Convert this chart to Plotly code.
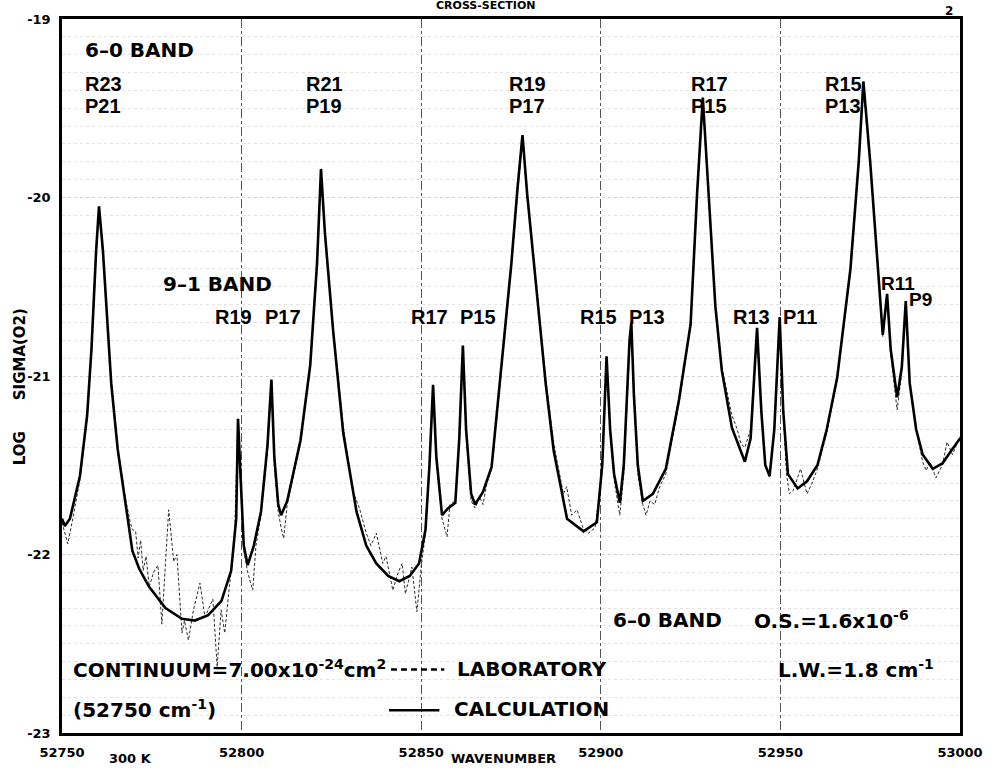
import plotly.graph_objects as go

# ---------------- data ----------------
calc_wn = [52750.0, 52750.8, 52752.2, 52755.0, 52757.0, 52758.2, 52759.5, 52760.3, 52761.4, 52763.7,
           52765.5, 52767.8, 52769.6, 52771.5, 52774.2, 52778.8, 52783.4, 52787.0, 52790.7, 52794.4,
           52797.1, 52798.5, 52799.0, 52799.8, 52800.6, 52801.7, 52803.4, 52805.4, 52807.2, 52808.3,
           52809.1, 52810.2, 52811.0, 52812.7, 52814.4, 52816.4, 52819.1, 52821.0, 52822.1, 52823.2,
           52825.5, 52828.3, 52832.0, 52834.7, 52837.5, 52840.8, 52843.9, 52846.8, 52849.4, 52851.2,
           52852.3, 52853.3, 52854.2, 52855.8, 52857.5, 52859.5, 52860.6, 52861.6, 52862.5, 52863.9,
           52865.0, 52867.2, 52869.6, 52871.4, 52873.2, 52875.1, 52876.8, 52878.2, 52879.5, 52882.4,
           52884.7, 52886.9, 52890.6, 52895.2, 52898.9, 52900.4, 52901.6, 52902.6, 52903.7, 52905.3,
           52906.4, 52908.0, 52908.5, 52909.2, 52910.3, 52911.7, 52914.5, 52918.1, 52921.8, 52925.0,
           52926.8, 52928.4, 52930.0, 52931.9, 52933.7, 52936.5, 52940.1, 52941.7, 52943.5, 52944.7,
           52945.8, 52947.0, 52948.3, 52949.8, 52950.8, 52952.1, 52954.8, 52957.4, 52960.3, 52962.9,
           52965.8, 52969.5, 52971.8, 52973.1, 52975.0, 52976.8, 52978.5, 52979.7, 52980.7, 52982.5,
           52983.8, 52984.9, 52986.0, 52987.8, 52989.6, 52992.4, 52995.1, 52997.5, 53000.0]
calc_log = [-21.80, -21.84, -21.80, -21.56, -21.22, -20.85, -20.30, -20.05, -20.30, -21.04,
            -21.41, -21.72, -21.98, -22.08, -22.18, -22.30, -22.36, -22.37, -22.34, -22.26,
            -22.09, -21.80, -21.24, -21.60, -21.95, -22.06, -21.95, -21.76, -21.39, -21.02,
            -21.45, -21.72, -21.78, -21.70, -21.55, -21.36, -20.94, -20.37, -19.84, -20.20,
            -20.75, -21.32, -21.76, -21.95, -22.05, -22.12, -22.15, -22.12, -22.05, -21.86,
            -21.50, -21.05, -21.45, -21.78, -21.74, -21.71, -21.35, -20.83, -21.30, -21.66,
            -21.72, -21.65, -21.51, -21.13, -20.75, -20.37, -19.95, -19.65, -19.98, -20.56,
            -21.05, -21.42, -21.80, -21.87, -21.82, -21.50, -20.89, -21.30, -21.55, -21.71,
            -21.50, -20.80, -20.70, -21.10, -21.50, -21.70, -21.66, -21.52, -21.13, -20.71,
            -19.98, -19.44, -19.98, -20.61, -20.97, -21.29, -21.48, -21.35, -20.73, -21.20,
            -21.50, -21.56, -21.30, -20.67, -21.20, -21.55, -21.63, -21.59, -21.50, -21.30,
            -21.01, -20.40, -19.80, -19.35, -19.80, -20.30, -20.77, -20.54, -20.85, -21.12,
            -20.95, -20.58, -21.04, -21.30, -21.44, -21.52, -21.49, -21.42, -21.35]

lab_wn = [52750.0, 52751.6, 52753.0, 52755.0, 52757.0, 52758.2, 52759.5, 52760.3, 52761.4, 52763.7,
          52765.5, 52767.8, 52769.0, 52769.6, 52770.5, 52771.2, 52771.9, 52772.6, 52773.4, 52774.3,
          52775.5, 52776.7, 52777.8, 52779.7, 52781.1, 52782.0, 52783.4, 52784.1, 52785.2, 52786.6,
          52788.4, 52789.8, 52792.0, 52793.2, 52794.3, 52795.3, 52796.6, 52798.0, 52798.9, 52799.8,
          52800.6, 52801.7, 52803.1, 52804.0, 52805.4, 52807.2, 52808.3, 52809.1, 52810.2, 52811.0,
          52811.7, 52812.7, 52814.4, 52816.4, 52819.1, 52821.0, 52822.1, 52823.2, 52825.5, 52828.3,
          52831.0, 52832.8, 52834.7, 52836.0, 52837.5, 52839.3, 52840.2, 52842.1, 52843.6, 52844.7,
          52845.6, 52847.4, 52848.8, 52850.1, 52851.2, 52852.3, 52853.3, 52854.2, 52855.8, 52857.2,
          52858.0, 52859.5, 52860.6, 52861.6, 52862.5, 52863.9, 52865.0, 52866.3, 52867.2, 52868.3,
          52869.6, 52871.4, 52873.2, 52875.1, 52876.8, 52878.2, 52879.5, 52882.4, 52884.7, 52886.9,
          52888.8, 52889.6, 52890.5, 52891.9, 52893.4, 52895.2, 52896.6, 52898.4, 52899.4, 52900.4,
          52901.6, 52902.6, 52903.7, 52905.3, 52906.4, 52908.0, 52908.5, 52909.2, 52910.3, 52911.7,
          52912.6, 52913.7, 52915.0, 52916.4, 52918.1, 52921.8, 52925.0, 52926.8, 52928.4, 52930.0,
          52931.9, 52933.7, 52936.5, 52938.0, 52939.0, 52940.1, 52941.7, 52943.5, 52944.7, 52945.8,
          52947.0, 52948.3, 52949.8, 52950.8, 52951.7, 52952.5, 52953.6, 52955.6, 52957.4, 52958.8,
          52960.3, 52962.9, 52965.8, 52969.5, 52971.8, 52973.1, 52975.0, 52976.8, 52978.5, 52979.7,
          52980.7, 52982.5, 52983.8, 52984.9, 52986.0, 52987.8, 52989.6, 52990.6, 52991.6, 52993.3,
          52995.1, 52996.4, 52997.9, 53000.0]
lab_log = [-21.82, -21.94, -21.80, -21.58, -21.24, -20.88, -20.33, -20.08, -20.32, -21.02,
           -21.40, -21.70, -21.82, -21.86, -21.87, -22.02, -21.92, -22.09, -22.01, -22.18,
           -22.10, -22.06, -22.39, -21.75, -22.04, -22.00, -22.44, -22.37, -22.48, -22.31,
           -22.16, -22.35, -22.25, -22.63, -22.31, -22.44, -22.18, -21.94, -21.27, -21.62,
           -21.98, -22.10, -22.20, -21.95, -21.78, -21.42, -21.04, -21.50, -21.76, -21.85,
           -21.91, -21.72, -21.57, -21.38, -20.95, -20.40, -19.87, -20.22, -20.74, -21.28,
           -21.65, -21.74, -21.88, -21.95, -21.88, -22.05, -22.01, -22.20, -22.10, -22.05,
           -22.22, -22.07, -22.32, -22.05, -21.88, -21.52, -21.08, -21.48, -21.80, -21.90,
           -21.72, -21.70, -21.38, -20.86, -21.32, -21.70, -21.74, -21.68, -21.72, -21.60,
           -21.52, -21.15, -20.78, -20.39, -19.98, -19.68, -20.00, -20.55, -21.02, -21.38,
           -21.57, -21.66, -21.62, -21.78, -21.75, -21.86, -21.88, -21.85, -21.70, -21.52,
           -20.92, -21.32, -21.58, -21.78, -21.55, -20.85, -20.74, -21.12, -21.55, -21.72,
           -21.78, -21.70, -21.72, -21.62, -21.55, -21.15, -20.72, -20.00, -19.47, -20.00,
           -20.60, -20.95, -21.22, -21.30, -21.38, -21.40, -21.30, -20.75, -21.22, -21.50,
           -21.57, -21.32, -20.70, -21.20, -21.55, -21.66, -21.64, -21.52, -21.66, -21.60,
           -21.52, -21.32, -21.02, -20.42, -19.82, -19.38, -19.82, -20.30, -20.78, -20.56,
           -20.88, -21.19, -20.98, -20.60, -21.05, -21.30, -21.48, -21.53, -21.48, -21.57,
           -21.50, -21.37, -21.44, -21.34]

x_tick_vals = [52750, 52800, 52850, 52900, 52950, 53000]
x_tick_text = ["52750", "52800", "52850", "52900", "52950", "53000"]
y_tick_vals = [-19, -20, -21, -22, -23]
y_tick_text = ["-19", "-20", "-21", "-22", "-23"]

# ---------------- layout helpers (pixel -> paper) ----------------
L, R, T, B = 62, 971, 16, 737
W, H = 995, 772


def px(x):
    return (x - L) / (R - L)


def py(y):
    return (B - y) / (B - T)


fig = go.Figure()
fig.add_trace(go.Scatter(x=lab_wn, y=lab_log, mode="lines", name="LABORATORY",
                         line=dict(color="#2a2a2a", width=1, dash="3px,2px")))
fig.add_trace(go.Scatter(x=calc_wn, y=calc_log, mode="lines", name="CALCULATION",
                         line=dict(color="black", width=2.6)))

BIG = "DejaVu Sans"
LBL = "Liberation Sans"
annots = []


def txt(text, x, y, size, family=BIG, anchor="left"):
    annots.append(dict(text="<b>" + text + "</b>", x=px(x), y=py(y), xref="paper", yref="paper",
                       showarrow=False, xanchor=anchor, yanchor="middle",
                       font=dict(family=family, size=size, color="black")))


txt("6–0 BAND", 83, 47, 20)
for lab, xl in [("R23", 83), ("R21", 307), ("R19", 512), ("R17", 697), ("R15", 832)]:
    txt(lab, xl, 82, 20, LBL)
for lab, xl in [("P21", 83), ("P19", 307), ("P17", 512), ("P15", 697), ("P13", 832)]:
    txt(lab, xl, 104, 20, LBL)
txt("9–1 BAND", 162, 284, 20)
for lab, xl in [("R19", 215), ("P17", 265), ("R17", 413), ("P15", 463), ("R15", 584),
                ("P13", 634), ("R13", 739), ("P11", 790)]:
    txt(lab, xl, 317, 20, LBL)
txt("R11", 889, 283, 19, LBL)
txt("P9", 917, 299, 19, LBL)

txt("6–0 BAND", 618, 623, 20)
txt("O.S.=1.6x10<sup>-6</sup>", 760, 623, 20)
txt("L.W.=1.8 cm<sup>-1</sup>", 785, 672, 20)
txt("CONTINUUM=7.00x10<sup>-24</sup>cm<sup>2</sup>", 71, 672, 20)
txt("(52750 cm<sup>-1</sup>)", 71, 713, 20)
txt("LABORATORY", 460, 672, 20)
txt("CALCULATION", 457, 713, 20)

txt("CROSS-SECTION", 491, 2, 11, anchor="center")
txt("2", 960, 8, 12, anchor="center")
txt("300 K", 131, 763, 13, anchor="center")
txt("WAVENUMBER", 509, 763, 13, anchor="center")

annots.append(dict(text="<b>LOG</b>", x=px(19), y=py(450), xref="paper", yref="paper",
                   showarrow=False, textangle=-90, xanchor="center", yanchor="middle",
                   font=dict(family=BIG, size=15, color="black")))
annots.append(dict(text="<b>SIGMA(O2)</b>", x=px(19), y=py(355), xref="paper", yref="paper",
                   showarrow=False, textangle=-90, xanchor="center", yanchor="middle",
                   font=dict(family=BIG, size=15, color="black")))

shapes = [
    dict(type="line", xref="paper", yref="paper", x0=px(395), x1=px(449), y0=py(673), y1=py(673),
         line=dict(color="black", width=2.5, dash="6px,4px")),
    dict(type="line", xref="paper", yref="paper", x0=px(393), x1=px(444), y0=py(714), y1=py(714),
         line=dict(color="black", width=2.5)),
]

fig.update_layout(
    width=W, height=H,
    margin=dict(l=L, r=W - R, t=T, b=H - B),
    paper_bgcolor="white", plot_bgcolor="white",
    showlegend=False,
    annotations=annots,
    shapes=shapes,
    xaxis=dict(range=[52750, 53000], tickvals=x_tick_vals, ticktext=x_tick_text,
               showgrid=True, gridcolor="#555555", griddash="dashdot", gridwidth=1,
               showline=True, mirror=True, linecolor="black", linewidth=2.5,
               ticks="", zeroline=False, ticklabelstandoff=6,
               tickfont=dict(family=BIG, size=13, color="black", weight="bold")),
    yaxis=dict(range=[-23, -19], tickvals=y_tick_vals, ticktext=y_tick_text,
               showgrid=True, gridcolor="#d2d2d2", griddash="dot", gridwidth=1,
               minor=dict(tick0=-23, dtick=0.1, showgrid=True, gridcolor="#e3e3e3",
                          griddash="dot", gridwidth=1),
               showline=True, mirror=True, linecolor="black", linewidth=2.5,
               ticks="", zeroline=False, ticklabelstandoff=6,
               tickfont=dict(family=BIG, size=13, color="black", weight="bold")),
)

fig.write_html("out.html", config={"displayModeBar": False},
               post_script="document.body.style.margin='0px';document.body.style.overflow='hidden';")
